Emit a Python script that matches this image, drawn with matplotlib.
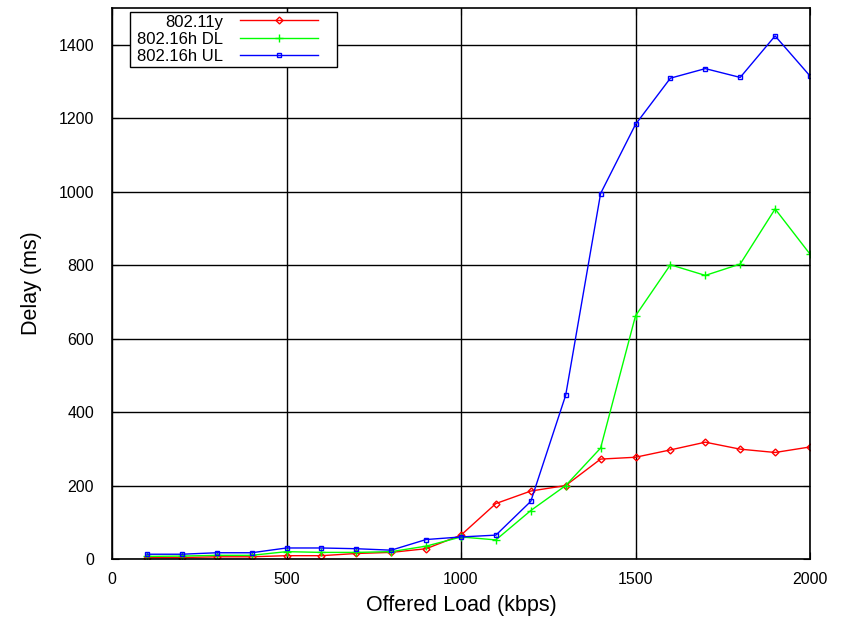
import matplotlib
matplotlib.use("Agg")
import matplotlib.pyplot as plt
from matplotlib.patches import Rectangle

plt.rcParams['font.family'] = ['Liberation Sans', 'DejaVu Sans']

load = [100, 200, 300, 400, 500, 600, 700, 800, 900, 1000,
        1100, 1200, 1300, 1400, 1500, 1600, 1700, 1800, 1900, 2000]
delay_11y = [4, 4, 6, 6, 9, 9, 15, 18, 28, 65,
             151, 185, 200, 272, 277, 297, 318, 299, 290, 305]
delay_16h_dl = [7, 8, 10, 10, 20, 18, 18, 20, 35, 60,
                52, 132, 200, 302, 662, 801, 772, 803, 953, 830]
delay_16h_ul = [13, 13, 17, 17, 30, 30, 28, 24, 53, 60,
                65, 157, 446, 995, 1183, 1309, 1335, 1311, 1424, 1315]

xticks = [0, 500, 1000, 1500, 2000]
yticks = [0, 200, 400, 600, 800, 1000, 1200, 1400]

W, H = 848, 617
fig = plt.figure(figsize=(W/100, H/100), dpi=100)
ax = fig.add_axes([112/W, 58/H, (810-112)/W, (559-8)/H])

ax.plot(load, delay_11y, color='#ff0000', lw=1, marker='D', ms=3.5,
        mfc='none', mec='#ff0000', mew=1, label='802.11y')
ax.plot(load, delay_16h_dl, color='#00ff00', lw=1, marker='+', ms=6,
        mec='#00ff00', mew=1, label='802.16h DL')
ax.plot(load, delay_16h_ul, color='#0000ff', lw=1, marker='s', ms=3.5,
        mfc='none', mec='#0000ff', mew=1, label='802.16h UL')

ax.set_xlim(0, 2000)
ax.set_ylim(0, 1500)
ax.set_xticks(xticks)
ax.set_yticks(yticks)
ax.tick_params(direction='in', top=True, right=True, labelsize=11.5, length=5)
ax.tick_params(axis='y', pad=13)
ax.tick_params(axis='x', pad=9)
ax.grid(True, color='black', lw=1)
ax.set_axisbelow(True)
for s in ax.spines.values():
    s.set_linewidth(1.2)

ax.set_xlabel('Offered Load (kbps)', fontsize=15.5, labelpad=6)
ax.set_ylabel('Delay (ms)', fontsize=15.5, labelpad=12)

# legend box (white background with black frame)
box = Rectangle((130/W, 1 - 67/H), 207/W, 55/H, transform=fig.transFigure,
                facecolor='white', edgecolor='black', lw=1, zorder=4)
ax.add_artist(box)
box.set_clip_on(False)

leg = ax.legend(loc='upper left', bbox_to_anchor=(23/698, 1 - 4/551), markerfirst=False,
                fontsize=12, frameon=False, handlelength=4.7, borderpad=0.12,
                labelspacing=0.1, handletextpad=1.0, borderaxespad=0, handleheight=0.9)
leg.set_zorder(5)
leg._legend_box.align = 'right'
for t in leg.get_texts():
    t.set_ha('right')

fig.savefig('out.png', dpi=100)
